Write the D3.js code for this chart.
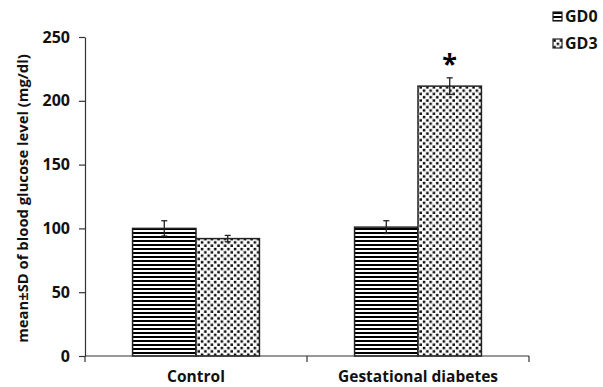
<!DOCTYPE html>
<html>
<head>
<meta charset="utf-8">
<script src="https://cdn.jsdelivr.net/npm/d3@7"></script>
<style>
  body { margin: 0; background: #fff; }
  svg { display: block; }
</style>
</head>
<body>
<div id="chart"></div>
<script>
// data
const categories = ["Control", "Gestational diabetes"];
const seriesNames = ["GD0", "GD3"];
const gd0Values = [100, 101];
const gd3Values = [92, 211.5];
const gd0Errors = [6, 5];
const gd3Errors = [2.5, 6.5];
const yTicks = [0, 50, 100, 150, 200, 250];
const significant = [[false, false], [false, true]];

const width = 603;
const height = 387;
const marginLeft = 85;
const marginRight = 74;
const marginTop = 37;
const marginBottom = 31;
const boldFont = "'Open Sans', sans-serif";

const svg = d3.select("#chart").append("svg")
  .attr("width", width)
  .attr("height", height)
  .attr("viewBox", [0, 0, width, height]);

// fill patterns
const defs = svg.append("defs");
const stripes = defs.append("pattern")
  .attr("id", "stripes")
  .attr("patternUnits", "userSpaceOnUse")
  .attr("width", 8).attr("height", 4);
stripes.append("rect").attr("width", 8).attr("height", 4).attr("fill", "#fff");
stripes.append("rect").attr("y", 0).attr("width", 8).attr("height", 2).attr("fill", "#000");

// staggered small squares
const dots = defs.append("pattern")
  .attr("id", "dots")
  .attr("patternUnits", "userSpaceOnUse")
  .attr("width", 6.6).attr("height", 6.6);
dots.append("rect").attr("width", 6.6).attr("height", 6.6).attr("fill", "#fff");
[[0.3, 0.3], [3.6, 3.6]].forEach(([px, py]) => {
  dots.append("rect").attr("x", px).attr("y", py)
    .attr("width", 2.5).attr("height", 2.5).attr("fill", "#0a0a0a");
});

const patternFor = {GD0: "url(#stripes)", GD3: "url(#dots)"};

// scales
const x = d3.scaleBand()
  .domain(categories)
  .range([marginLeft, width - marginRight]);

const x1 = d3.scaleBand()
  .domain(seriesNames)
  .range([0, x.bandwidth()])
  .paddingInner(0)
  .paddingOuter(0.75);

const y = d3.scaleLinear()
  .domain([0, 250])
  .range([height - marginBottom, marginTop]);

const rows = categories.map((c, i) => ({
  category: c,
  bars: [
    {series: "GD0", value: gd0Values[i], err: gd0Errors[i], star: significant[i][0]},
    {series: "GD3", value: gd3Values[i], err: gd3Errors[i], star: significant[i][1]}
  ]
}));

// bars
const groups = svg.append("g")
  .selectAll("g")
  .data(rows)
  .join("g")
  .attr("transform", d => `translate(${x(d.category)},0)`);

groups.selectAll("rect")
  .data(d => d.bars)
  .join("rect")
  .attr("x", d => x1(d.series))
  .attr("y", d => y(d.value))
  .attr("width", x1.bandwidth())
  .attr("height", d => y(0) - y(d.value))
  .attr("fill", d => patternFor[d.series])
  .attr("stroke", "#222")
  .attr("stroke-width", 1.5);

// error bars
const errs = groups.selectAll("g.err")
  .data(d => d.bars)
  .join("g")
  .attr("class", "err")
  .attr("stroke", "#222")
  .attr("stroke-width", 1.3);

errs.append("line")
  .attr("x1", d => x1(d.series) + x1.bandwidth() / 2)
  .attr("x2", d => x1(d.series) + x1.bandwidth() / 2)
  .attr("y1", d => y(d.value + d.err))
  .attr("y2", d => y(d.value - d.err));
errs.selectAll("line.cap")
  .data(d => [d.value + d.err, d.value - d.err].map(v => ({v, d})))
  .join("line")
  .attr("class", "cap")
  .attr("x1", e => x1(e.d.series) + x1.bandwidth() / 2 - 3)
  .attr("x2", e => x1(e.d.series) + x1.bandwidth() / 2 + 3)
  .attr("y1", e => y(e.v))
  .attr("y2", e => y(e.v));

// significance star
groups.selectAll("text.star")
  .data(d => d.bars.filter(b => b.star))
  .join("text")
  .attr("class", "star")
  .attr("x", d => x1(d.series) + x1.bandwidth() / 2)
  .attr("y", d => y(d.value + d.err) - 5)
  .attr("text-anchor", "middle")
  .attr("font-family", boldFont)
  .attr("font-weight", "bold")
  .attr("font-size", 27)
  .text("*");

// y axis
svg.append("g")
  .attr("transform", `translate(${marginLeft},0)`)
  .call(d3.axisLeft(y).tickValues(yTicks).tickSize(6).tickSizeOuter(0).tickPadding(9))
  .call(g => g.select(".domain").attr("stroke", "#333").attr("stroke-width", 1.2))
  .call(g => g.selectAll(".tick line").attr("stroke", "#333").attr("stroke-width", 1.2))
  .call(g => g.selectAll(".tick text")
    .attr("font-family", boldFont)
    .attr("font-weight", "bold")
    .attr("font-size", 16)
    .attr("fill", "#111"));

// x axis: ticks sit on the category boundaries
const boundaries = [x.range()[0], ...categories.map(c => x(c) + x.bandwidth())];
const xAxis = svg.append("g")
  .attr("transform", `translate(0,${y(0)})`);
xAxis.append("line")
  .attr("x1", x.range()[0]).attr("x2", x.range()[1])
  .attr("stroke", "#333").attr("stroke-width", 1.2);
xAxis.selectAll("line.tk")
  .data(boundaries)
  .join("line")
  .attr("class", "tk")
  .attr("x1", d => d).attr("x2", d => d)
  .attr("y1", 0).attr("y2", 6)
  .attr("stroke", "#333").attr("stroke-width", 1.2);
xAxis.selectAll("text")
  .data(categories)
  .join("text")
  .attr("x", d => x(d) + x.bandwidth() / 2)
  .attr("y", 26)
  .attr("text-anchor", "middle")
  .attr("font-family", boldFont)
  .attr("font-weight", "bold")
  .attr("font-size", 15.5)
  .attr("fill", "#111")
  .text(d => d);

// y axis title
svg.append("text")
  .attr("transform", `translate(28,${(y(0) + y(250)) / 2 + 2}) rotate(-90)`)
  .attr("text-anchor", "middle")
  .attr("font-family", boldFont)
  .attr("font-weight", "bold")
  .attr("font-size", 14.8)
  .attr("fill", "#111")
  .text("mean±SD of blood glucose level (mg/dl)");

// legend
const legend = svg.append("g")
  .selectAll("g")
  .data(seriesNames)
  .join("g")
  .attr("transform", (d, i) => `translate(553,${12 + i * 27})`);
legend.append("rect")
  .attr("width", 9).attr("height", 9)
  .attr("fill", d => patternFor[d])
  .attr("stroke", "#222").attr("stroke-width", 1.2);
legend.append("text")
  .attr("x", 12)
  .attr("y", 10)
  .attr("font-family", boldFont)
  .attr("font-weight", "bold")
  .attr("font-size", 16)
  .attr("fill", "#111")
  .text(d => d);
</script>
</body>
</html>
